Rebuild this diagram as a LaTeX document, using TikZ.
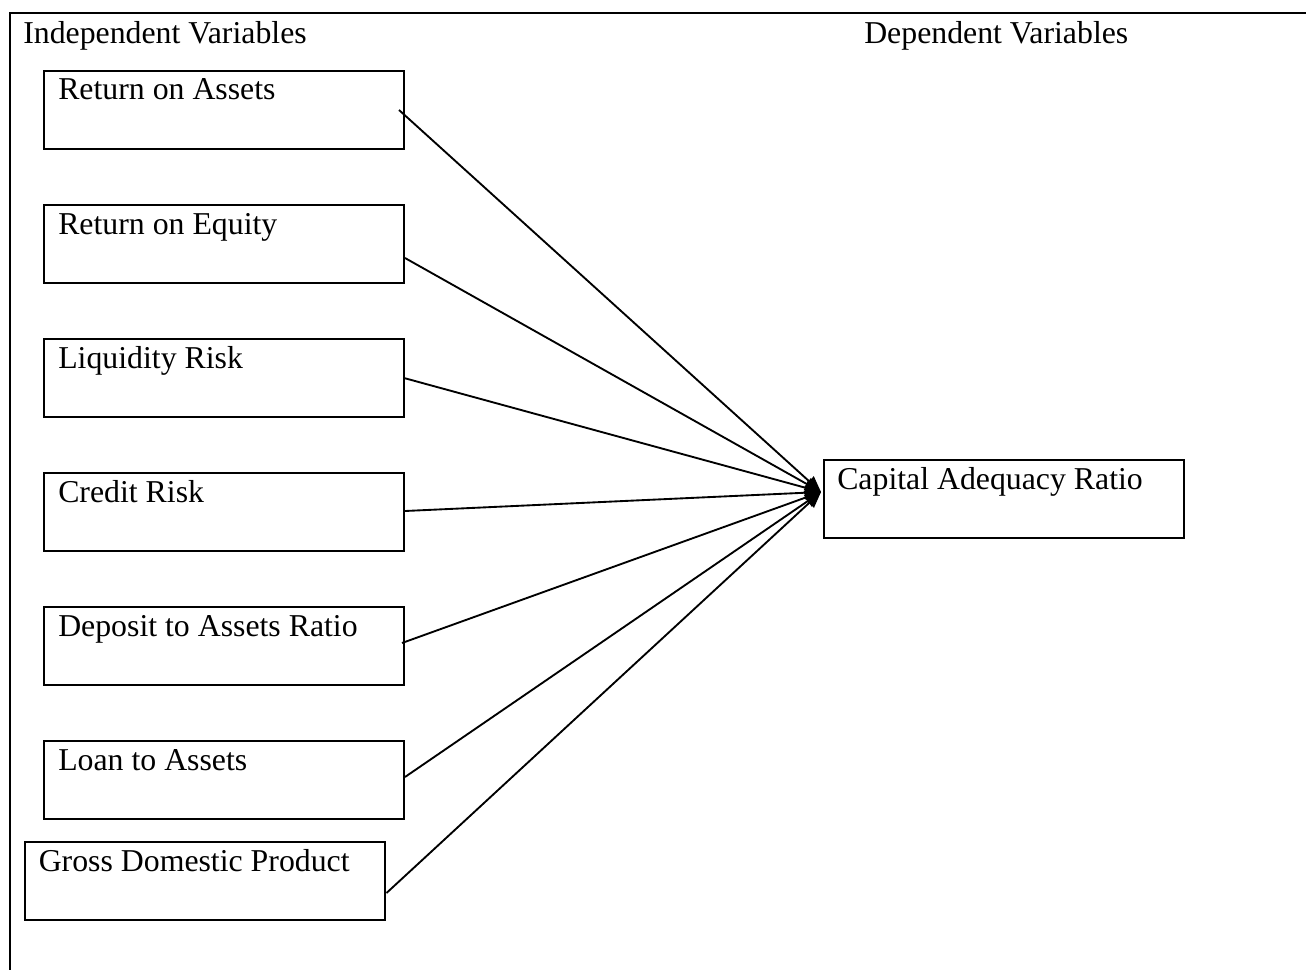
\documentclass[tikz,border=0pt]{standalone}
\usepackage{fontspec}
\setmainfont{Liberation Serif}
\usetikzlibrary{calc,arrows.meta}
\tikzset{
  varbox/.style={draw, line width=1.5pt, rectangle, anchor=north west, inner sep=0pt,
                 minimum width=270pt, minimum height=58.5pt},
  boxtext/.style={anchor=base west, inner sep=0pt},
  conn/.style={line width=1.4pt, -{Triangle[length=12pt,width=10pt]}},
  frame/.style={line width=1.5pt}
}
\begin{document}
\begin{tikzpicture}[x=0.75pt,y=-0.75pt,font=\fontsize{23.85pt}{28pt}\selectfont]
\useasboundingbox (0,0) rectangle (1306,970);
% outer frame (top and left only)
\coordinate (ftop) at (9.5,13.5);
\coordinate (fright) at (1306,13.5);
\coordinate (fbottom) at (9.5,970);
\draw[frame] (fright) -- (ftop) -- (fbottom);
% headings
\node[boxtext] (indep) at (23,44) {Independent Variables};
\node[boxtext] (dep) at (864,44) {Dependent Variables};
% boxes
\node[varbox] (roa) at (43,70) {};
\node[varbox] (roe) at (43,204) {};
\node[varbox] (liq) at (43,338) {};
\node[varbox] (cr)  at (43,472) {};
\node[varbox] (dar) at (43,606) {};
\node[varbox] (lta) at (43,740) {};
\node[varbox] (gdp) at (23.5,841) {};
\node[varbox] (car) at (823,459) {};
% texts
\node[boxtext] at ($(roa.north west)+(15,30)$) {Return on Assets};
\node[boxtext] at ($(roe.north west)+(15,30)$) {Return on Equity};
\node[boxtext] at ($(liq.north west)+(15,30)$) {Liquidity Risk};
\node[boxtext] at ($(cr.north west)+(15,30)$) {Credit Risk};
\node[boxtext] at ($(dar.north west)+(15,30)$) {Deposit to Assets Ratio};
\node[boxtext] at ($(lta.north west)+(15,30)$) {Loan to Assets};
\node[boxtext] at ($(gdp.north west)+(15,30)$) {Gross Domestic Product};
\node[boxtext] at ($(car.north west)+(14,30)$) {Capital Adequacy Ratio};
% connectors
\coordinate (tip) at ($(car.north west)+(-2,33)$);
\draw[conn] ($(roa.north east)+(-6,40)$) -- (tip);
\draw[conn] ($(roe.north east)+(0,54)$) -- (tip);
\draw[conn] ($(liq.north east)+(-1,40)$) -- (tip);
\draw[conn] ($(cr.north east)+(0,39)$) -- (tip);
\draw[conn] ($(dar.north east)+(-3,37)$) -- (tip);
\draw[conn] ($(lta.north east)+(0,37)$) -- (tip);
\draw[conn] ($(gdp.north east)+(1,52)$) -- (tip);
\end{tikzpicture}
\end{document}
